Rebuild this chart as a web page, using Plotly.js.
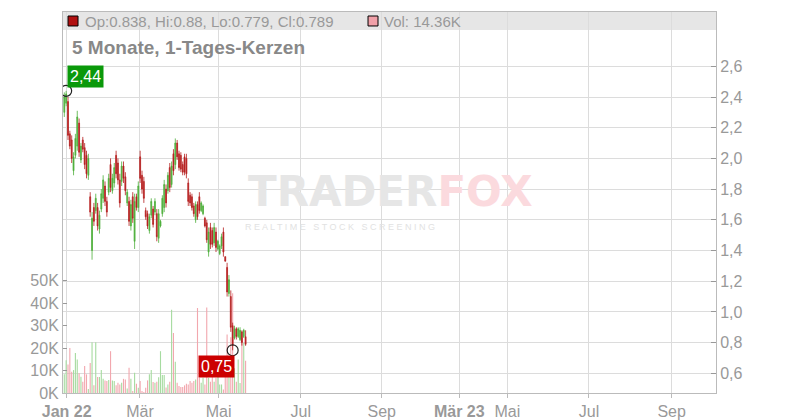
<!DOCTYPE html>
<html>
<head>
<meta charset="utf-8">
<script src="https://cdn.plot.ly/plotly-3.0.1.min.js"></script>
<style>html,body{margin:0;padding:0;background:#fff}#chart{width:800px;height:420px}</style>
</head>
<body>
<div id="chart"></div>
<script>
// Daily candles, Jan 2022 .. May 2022 (trading-day order)
const openP = [2.30,2.36,2.37,2.16,2.12,1.92,2.02,2.08,2.23,1.99,2.12,2.07,2.02,1.89,1.75,1.40,1.68,1.66,1.68,1.54,
  1.67,1.74,1.82,1.72,1.78,1.96,1.79,1.84,2.02,1.97,1.86,1.85,1.95,1.88,1.71,1.72,1.56,1.75,1.46,1.75,
  1.68,2.01,1.89,1.85,1.66,1.64,1.53,1.63,1.67,1.65,1.64,1.48,1.56,1.64,1.68,1.80,1.79,1.94,1.83,2.03,
  1.96,2.10,2.03,2.02,1.96,2.01,2.00,1.84,1.76,1.75,1.69,1.60,1.70,1.75,1.66,1.64,1.61,1.58,1.39,1.55,
  1.53,1.45,1.52,1.41,1.38,1.43,1.52,1.36,1.29,1.12,1.10,0.91,0.83,0.89,0.84,0.82,0.87,0.84,0.838];
const highP = [2.43,2.44,2.40,2.18,2.15,2.04,2.16,2.31,2.26,2.10,2.14,2.10,2.05,2.03,1.78,1.65,1.71,1.77,1.71,1.66,
  1.80,1.89,1.85,1.75,1.90,2.00,1.90,1.97,2.05,2.00,1.90,1.98,1.98,1.91,1.80,1.75,1.73,1.78,1.77,1.77,
  1.85,2.05,1.92,1.88,1.68,1.66,1.64,1.74,1.69,1.74,1.67,1.67,1.60,1.76,1.86,1.83,1.91,1.97,1.98,2.06,
  2.13,2.12,2.05,2.04,1.98,2.03,2.03,1.87,1.78,1.77,1.71,1.72,1.72,1.78,1.72,1.70,1.62,1.60,1.55,1.58,
  1.55,1.58,1.55,1.47,1.44,1.51,1.55,1.36,1.32,1.24,1.14,0.93,0.91,0.90,0.90,0.90,0.88,0.89,0.88];
const lowP = [2.27,2.34,2.12,2.06,1.97,1.89,2.00,2.05,2.01,1.97,2.04,1.93,1.87,1.86,1.62,1.34,1.56,1.64,1.53,1.51,
  1.65,1.71,1.69,1.62,1.76,1.78,1.77,1.81,1.87,1.83,1.68,1.82,1.84,1.76,1.69,1.56,1.53,1.58,1.41,1.66,
  1.65,1.84,1.77,1.71,1.60,1.54,1.51,1.61,1.55,1.63,1.46,1.45,1.55,1.62,1.65,1.68,1.77,1.78,1.81,1.89,
  1.93,1.99,1.92,1.91,1.89,1.89,1.87,1.69,1.69,1.66,1.62,1.58,1.60,1.64,1.65,1.63,1.55,1.45,1.36,1.41,
  1.42,1.43,1.39,1.40,1.37,1.41,1.36,1.33,1.10,1.10,0.87,0.75,0.82,0.82,0.83,0.81,0.78,0.83,0.779];
const closeP = [2.40,2.42,2.15,2.08,2.00,2.01,2.13,2.27,2.04,2.08,2.06,1.96,1.90,2.00,1.65,1.61,1.59,1.74,1.56,1.63,
  1.77,1.86,1.72,1.65,1.87,1.81,1.87,1.94,1.90,1.86,1.71,1.95,1.87,1.79,1.78,1.59,1.70,1.61,1.72,1.68,
  1.82,1.87,1.80,1.74,1.62,1.56,1.62,1.72,1.57,1.72,1.49,1.64,1.59,1.74,1.83,1.71,1.89,1.81,1.95,1.92,
  2.10,2.01,1.94,1.93,1.91,1.91,1.90,1.72,1.71,1.68,1.64,1.70,1.62,1.66,1.71,1.69,1.56,1.47,1.52,1.44,
  1.44,1.55,1.42,1.46,1.43,1.49,1.39,1.33,1.13,1.21,0.90,0.78,0.89,0.84,0.89,0.88,0.80,0.88,0.789];
const volumeK = [8.3,14.6,12.7,20,9.4,10.2,17.8,14.9,8.8,7.2,5,12,8.3,1.8,13.3,22.6,3.5,22.6,7.1,7.1,
  10.2,6.3,5.6,5.3,5.8,18.6,5.6,5.3,3.5,4.6,3.8,4.6,6.3,6,2,11.2,6.3,0.9,9,4.1,
  2.3,5.3,0.9,0.5,2.3,5.6,8.3,10.2,4.9,4.6,5,7,18.6,8,8,2.4,3.8,5,37,26.7,
  13.9,4.6,3.1,2.7,2.7,3.4,4.1,3.8,5.3,4.6,5.3,6,37.8,6.8,4.6,6.8,3.8,38,6.8,5,
  10.5,5,6.8,9.7,3.8,3.8,1.6,10.5,26,9.7,24.8,44.4,11,5,14.9,4.5,24.5,22.3,14.36];

// axis ticks (trading-day position, label)
const xTickPos = [1.3, 40.9, 83.4, 127.8, 171.6, 213.5, 239.5, 283.6, 328.3];
const xTickText = ['<b>Jan 22</b>', 'Mär', 'Mai', 'Jul', 'Sep', '<b>Mär 23</b>', 'Mai', 'Jul', 'Sep'];
const priceTicks = [0.6, 0.8, 1.0, 1.2, 1.4, 1.6, 1.8, 2.0, 2.2, 2.4, 2.6];
const volTicks = [0, 10000, 20000, 30000, 40000, 50000];
const volTickText = ['0K', '10K', '20K', '30K', '40K', '50K'];

const xIdx = highP.map((_, i) => i);
const volume = volumeK.map(v => v * 1000);
const GREEN = '#4caf3a', RED = '#b51d1d';
const volColors = closeP.map((c, i) => c >= openP[i] ? '#a6dba0' : '#f2a7ae');

const maxHi = Math.max(...highP), iMax = highP.indexOf(maxHi);
const minLo = Math.min(...lowP), iMin = lowP.indexOf(minLo);
const last = highP.length - 1;
const fmtK = v => (v / 1000).toFixed(2) + 'K';

const traces = [
  {type: 'bar', x: xIdx, y: volume, xaxis: 'x', yaxis: 'y', width: 0.6,
   marker: {color: volColors, line: {width: 0}}, hoverinfo: 'skip', showlegend: false},
  {type: 'candlestick', x: xIdx, open: openP, high: highP, low: lowP, close: closeP,
   xaxis: 'x', yaxis: 'y2', whiskerwidth: 0,
   increasing: {line: {color: GREEN, width: 0.8}, fillcolor: GREEN},
   decreasing: {line: {color: RED, width: 0.8}, fillcolor: RED},
   hoverinfo: 'skip', showlegend: false},
  {type: 'scatter', mode: 'markers', x: [iMax, iMin], y: [maxHi, minLo], xaxis: 'x', yaxis: 'y2',
   marker: {symbol: 'circle-open', size: 11, color: '#222', line: {width: 1.2}},
   hoverinfo: 'skip', showlegend: false}
];

const FONT = 'Liberation Sans, Arial, sans-serif';
const layout = {
  width: 800, height: 420,
  margin: {l: 63, r: 84, t: 12, b: 27, pad: 0},
  paper_bgcolor: '#fff', plot_bgcolor: 'rgba(0,0,0,0)',
  separators: ',.',
  showlegend: false,
  font: {family: FONT, color: '#999', size: 15},
  title: {text: '<b>5 Monate, 1-Tages-Kerzen</b>', font: {family: FONT, size: 19, color: '#888'},
          x: 0.09, xref: 'container', xanchor: 'left', y: 0.888, yref: 'container', yanchor: 'middle'},
  xaxis: {range: [-0.7, 352.27], tickmode: 'array', tickvals: xTickPos, ticktext: xTickText,
          showgrid: true, gridcolor: '#dcdcdc', gridwidth: 1, zeroline: false,
          ticks: 'outside', ticklen: 4, tickcolor: '#bbb',
          showline: true, linecolor: '#bbb', linewidth: 1, mirror: true,
          tickfont: {size: 16, color: '#999', family: FONT},
          rangeslider: {visible: false}, fixedrange: true},
  yaxis: {range: [0, 169500], side: 'left', tickmode: 'array', tickvals: volTicks, ticktext: volTickText,
          showgrid: false, zeroline: false, ticks: 'inside', ticklen: 4, tickcolor: '#999',
          showline: true, linecolor: '#bbb', linewidth: 1,
          tickfont: {size: 16, color: '#999', family: FONT}, fixedrange: true},
  yaxis2: {range: [0.4717, 2.9537], overlaying: 'y', side: 'right', tickmode: 'array', tickvals: priceTicks,
           tickformat: '.1f', showgrid: true, gridcolor: '#dcdcdc', gridwidth: 1, zeroline: false,
           ticks: 'inside', ticklen: 5, tickcolor: '#999',
           showline: true, linecolor: '#bbb', linewidth: 1,
           tickfont: {size: 16, color: '#999', family: FONT}, fixedrange: true},
  shapes: [
    {type: 'rect', xref: 'paper', yref: 'paper', x0: 0, x1: 1, y0: 0.9528, y1: 1,
     fillcolor: '#e6e6e6', line: {width: 0}, layer: 'below'},
    {type: 'rect', xref: 'paper', yref: 'paper', x0: 0.0077, x1: 0.0230, y0: 0.9633, y1: 0.9895,
     fillcolor: '#b01010', line: {color: '#000', width: 1}},
    {type: 'rect', xref: 'paper', yref: 'paper', x0: 0.4671, x1: 0.4824, y0: 0.9633, y1: 0.9895,
     fillcolor: '#f0a0a8', line: {color: '#000', width: 1}}
  ],
  annotations: [
    {xref: 'paper', yref: 'paper', x: 0.502, y: 0.5276, xanchor: 'center', yanchor: 'middle', showarrow: false,
     text: '<b><span style="color:#e6e6e6">TRADER</span><span style="color:#fbdade">FOX</span></b>',
     font: {family: 'DejaVu Sans, sans-serif', size: 42}},
    {xref: 'paper', yref: 'paper', x: 0.424, y: 0.4357, xanchor: 'center', yanchor: 'middle', showarrow: false,
     text: 'R E A L T I M E   S T O C K   S C R E E N I N G', font: {family: FONT, size: 9, color: '#e2e2e2'}},
    {xref: 'paper', yref: 'paper', x: 0.031, y: 0.976, xanchor: 'left', yanchor: 'middle', showarrow: false,
     text: 'Op:' + openP[last] + ', Hi:' + highP[last] + ', Lo:' + lowP[last] + ', Cl:' + closeP[last],
     font: {family: FONT, size: 15, color: '#999'}},
    {xref: 'paper', yref: 'paper', x: 0.489, y: 0.976, xanchor: 'left', yanchor: 'middle', showarrow: false,
     text: 'Vol: ' + fmtK(volume[last]), font: {family: FONT, size: 15, color: '#999'}},
    {xref: 'x', yref: 'y2', x: iMax, y: maxHi, xanchor: 'left', yanchor: 'bottom', xshift: 1, yshift: 3,
     showarrow: false, text: maxHi.toFixed(2).replace('.', ','), bgcolor: '#0a990a', borderpad: 2,
     font: {family: FONT, size: 16, color: '#fff'}},
    {xref: 'x', yref: 'y2', x: iMin, y: minLo, xanchor: 'right', yanchor: 'top', xshift: 2, yshift: -5,
     showarrow: false, text: minLo.toFixed(2).replace('.', ','), bgcolor: '#cc0000', borderpad: 2,
     font: {family: FONT, size: 16, color: '#fff'}}
  ]
};

Plotly.newPlot('chart', traces, layout, {displayModeBar: false, staticPlot: true});
</script>
</body>
</html>
